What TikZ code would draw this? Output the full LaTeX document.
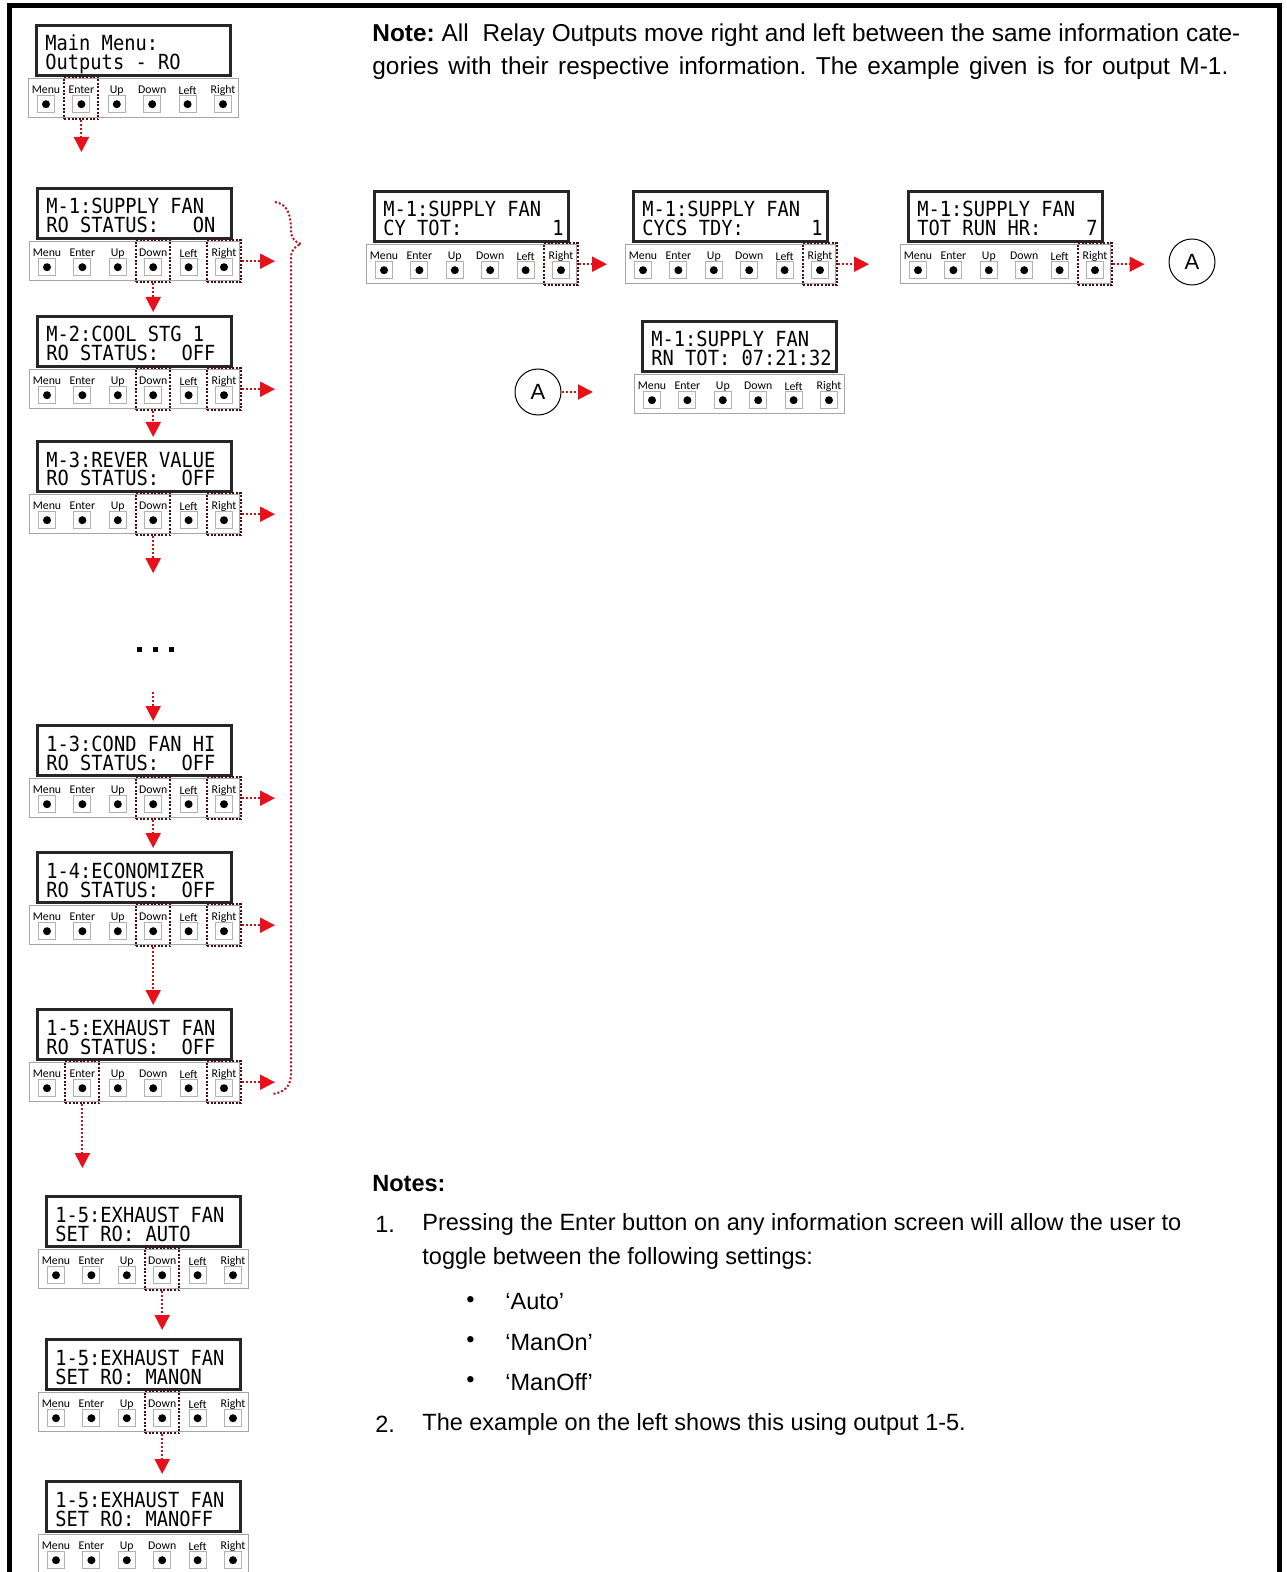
\documentclass[tikz,border=0pt]{standalone}
\usepackage{fontspec}
\setmainfont{Liberation Sans}
\newfontfamily\lcdfont[FakeStretch=0.9]{DejaVu Sans Mono}
\newfontfamily\btnfont{Carlito}
\usetikzlibrary{arrows.meta}
\definecolor{flowcol}{HTML}{C0141A}
\definecolor{headcol}{HTML}{E8101A}
\definecolor{hlcol}{HTML}{4A0C0C}
\definecolor{bracecol}{HTML}{B0141A}
\newcommand\lsp{\hphantom{0}}
\tikzset{
 lcd/.style={draw=black!85, line width=1.4pt, fill=white, minimum width=97pt, minimum height=25pt, inner sep=0pt},
 lcdtext/.style={font=\lcdfont\fontsize{10.4pt}{10pt}\selectfont, inner sep=0pt, anchor=base west},
 strip/.style={draw=black!35, line width=0.5pt, fill=white, minimum width=105pt, minimum height=19.5pt, inner sep=0pt},
 btn/.style={draw=black!30, line width=0.5pt, fill=white, minimum size=8.5pt, inner sep=0pt},
 dot/.style={circle, fill=black, minimum size=4pt, inner sep=0pt},
 blab/.style={font=\btnfont\fontsize{5.9pt}{6pt}\selectfont, inner sep=0pt},
 hlbox/.style={draw=hlcol, line width=1pt, dash pattern=on 1pt off 0.8pt, minimum width=17pt, minimum height=21pt, inner sep=0pt},
 flow/.style={draw=flowcol, line width=1pt, dash pattern=on 1pt off 1pt, -{Triangle[length=7.5pt, width=7.5pt, color=headcol]}},
 bracestyle/.style={draw=bracecol, line width=1pt, dash pattern=on 1pt off 1pt},
 note/.style={font=\fontsize{11.75pt}{14pt}\selectfont\frenchspacing, anchor=west, inner sep=0pt},
 topnote/.style={font=\fontsize{12.2pt}{14pt}\selectfont\frenchspacing, anchor=west, inner sep=0pt},
 circA/.style={circle, draw=black, line width=0.5pt, minimum size=23pt, inner sep=0pt, font=\fontsize{11pt}{12pt}\selectfont},
}
\newcommand\lcdpanel[5]{%
 \node[lcd, anchor=north west] (#1-lcd) at (#2,#3) {};
 \node[lcdtext] (#1-t1) at ([xshift=5pt, yshift=-13.5pt]#1-lcd.north west) {#4};
 \node[lcdtext] (#1-t2) at ([xshift=5pt, yshift=-23pt]#1-lcd.north west) {#5};
 \node[strip, anchor=north west] (#1-strip) at ([xshift=-3.5pt,yshift=-0.7pt]#1-lcd.south west) {};
 \foreach \i/\blabtxt in {0/Menu,1/Enter,2/Up,3/Down,4/Left,5/Right}{%
   \node[btn] (#1-b\i) at ([xshift={9pt+17.7pt*\i}, yshift=-13pt]#1-strip.north west) {};
   \node[dot] (#1-d\i) at (#1-b\i) {};
   \node[blab] (#1-l\i) at ([yshift=7pt]#1-b\i) {\blabtxt};
 }%
}
\newcommand\hlbtn[2]{\node[hlbox] (#1-h#2) at ([yshift=3pt]#1-b#2) {};}
\begin{document}
\begin{tikzpicture}[x=0.5pt,y=-0.5pt]
\useasboundingbox (0,0) rectangle (1286,1572);
\draw[line width=2.5pt] (9.5,1572) -- (9.5,5.5) -- (1279.5,5.5) -- (1279.5,1572);

% left column
\lcdpanel{MM}{35}{24}{Main\lsp Menu:}{Outputs\lsp -\lsp RO}
\hlbtn{MM}{1}
\lcdpanel{M1}{36}{187}{M-1:SUPPLY\lsp FAN}{RO\lsp STATUS:\lsp\lsp\lsp ON}
\hlbtn{M1}{3}\hlbtn{M1}{5}
\lcdpanel{M2}{36}{315}{M-2:COOL\lsp STG\lsp 1}{RO\lsp STATUS:\lsp\lsp OFF}
\hlbtn{M2}{3}\hlbtn{M2}{5}
\lcdpanel{M3}{36}{440}{M-3:REVER\lsp VALUE}{RO\lsp STATUS:\lsp\lsp OFF}
\hlbtn{M3}{3}\hlbtn{M3}{5}
\lcdpanel{C13}{36}{724}{1-3:COND\lsp FAN\lsp HI}{RO\lsp STATUS:\lsp\lsp OFF}
\hlbtn{C13}{3}\hlbtn{C13}{5}
\lcdpanel{C14}{36}{851}{1-4:ECONOMIZER}{RO\lsp STATUS:\lsp\lsp OFF}
\hlbtn{C14}{3}\hlbtn{C14}{5}
\lcdpanel{C15}{36}{1008}{1-5:EXHAUST\lsp FAN}{RO\lsp STATUS:\lsp\lsp OFF}
\hlbtn{C15}{1}\hlbtn{C15}{5}
\lcdpanel{S1}{45}{1195}{1-5:EXHAUST\lsp FAN}{SET\lsp RO:\lsp AUTO}
\hlbtn{S1}{3}
\lcdpanel{S2}{45}{1338}{1-5:EXHAUST\lsp FAN}{SET\lsp RO:\lsp MANON}
\hlbtn{S2}{3}
\lcdpanel{S3}{45}{1480}{1-5:EXHAUST\lsp FAN}{SET\lsp RO:\lsp MANOFF}

% ellipsis dots
\fill[black] (136.5,646.5) rectangle (141.5,651.5);
\fill[black] (152.5,646.5) rectangle (157.5,651.5);
\fill[black] (168.5,646.5) rectangle (173.5,651.5);

% vertical arrows
\draw[flow, shorten >=17.5pt] (MM-h1.south) -- (MM-h1.south |- M1-lcd.north);
\draw[flow, shorten >=1.5pt] (M1-h3.south) -- (M1-h3.south |- M2-lcd.north);
\draw[flow, shorten >=1.5pt] (M2-h3.south) -- (M2-h3.south |- M3-lcd.north);
\coordinate (M3-down) at ([yshift=-18.5pt]M3-h3.south);
\draw[flow] (M3-h3.south) -- (M3-down);
\coordinate (C13-in) at ([yshift=16pt]C13-lcd.north -| C13-b3);
\draw[flow, shorten >=1.5pt] (C13-in) -- (C13-in |- C13-lcd.north);
\draw[flow, shorten >=1.5pt] (C13-h3.south) -- (C13-h3.south |- C14-lcd.north);
\draw[flow, shorten >=1.5pt] (C14-h3.south) -- (C14-h3.south |- C15-lcd.north);
\draw[flow, shorten >=13.5pt] (C15-h1.south) -- (C15-h1.south |- S1-lcd.north);
\draw[flow, shorten >=4pt] (S1-h3.south) -- (S1-h3.south |- S2-lcd.north);
\draw[flow, shorten >=3pt] (S2-h3.south) -- (S2-h3.south |- S3-lcd.north);

% right arrows of left column
\foreach \p in {M1,M2,M3,C13,C14,C15}{
  \coordinate (\p-r) at ([xshift=16.5pt]\p-h5.east);
  \draw[flow] (\p-h5.east) -- (\p-r);
}

% brace
\draw[bracestyle] (275,202) .. controls (288,204) and (291,216) .. (291,230)
  .. controls (291,238) and (295,242) .. (301,244)
  .. controls (295,246) and (291,250) .. (291,258)
  -- (291,1074) .. controls (291,1087) and (283,1093) .. (272,1094);

% right row
\lcdpanel{CY}{373}{190}{M-1:SUPPLY\lsp FAN}{CY\lsp TOT:\lsp\lsp\lsp\lsp\lsp\lsp\lsp\lsp 1}
\hlbtn{CY}{5}
\lcdpanel{CD}{632}{190}{M-1:SUPPLY\lsp FAN}{CYCS\lsp TDY:\lsp\lsp\lsp\lsp\lsp\lsp 1}
\hlbtn{CD}{5}
\lcdpanel{TR}{907}{190}{M-1:SUPPLY\lsp FAN}{TOT\lsp RUN\lsp HR:\lsp\lsp\lsp\lsp 7}
\hlbtn{TR}{5}
\node[circA] (A1) at (1192,262) {A};
\lcdpanel{RN}{641}{320}{M-1:SUPPLY\lsp FAN}{RN\lsp TOT:\lsp 07:21:32}
\node[circA] (A2) at (538,392) {A};

\draw[flow, shorten >=9pt] (CY-h5.east) -- (CY-h5.east -| CD-strip.west);
\draw[flow, shorten >=15.5pt] (CD-h5.east) -- (CD-h5.east -| TR-strip.west);
\draw[flow, shorten >=12pt] (TR-h5.east) -- (TR-h5.east -| A1.west);
\draw[flow, shorten >=20.5pt] (A2.east) -- (A2.east -| RN-strip.west);

% notes
\node[topnote] (n1) at (372,35) {\makebox[434pt][s]{\textbf{Note:} All\ \ Relay Outputs move right and left between the same information cate-}};
\node[topnote] (n2) at (372,68) {\makebox[428pt][s]{gories with their respective information. The example given is for output M-1.}};
\node[note] (ns) at (372,1184) {\textbf{Notes:}};
\node[note] (k1) at (375,1224) {1.};
\node[note] (t1) at (422,1224) {Pressing the Enter button on any information screen will allow the user to};
\node[note] (t1b) at (422,1258) {toggle between the following settings:};
\node[note] (bu1) at (466,1302) {•};
\node[note] (q1) at (505,1302) {‘Auto’};
\node[note] (bu2) at (466,1342) {•};
\node[note] (q2) at (505,1342) {‘ManOn’};
\node[note] (bu3) at (466,1382) {•};
\node[note] (q3) at (505,1382) {‘ManOff’};
\node[note] (k2) at (375,1424) {2.};
\node[note] (t2) at (422,1424) {The example on the left shows this using output 1-5.};
\end{tikzpicture}
\end{document}
